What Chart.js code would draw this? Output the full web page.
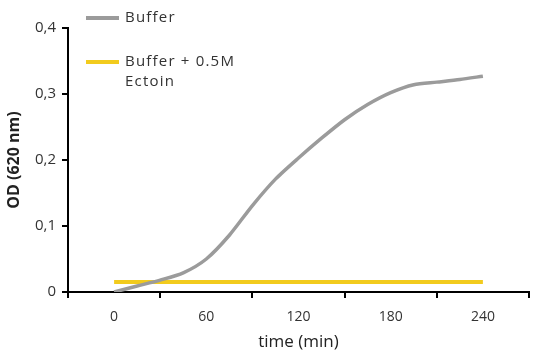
<!DOCTYPE html>
<html>
<head>
<meta charset="utf-8">
<script src="https://cdn.jsdelivr.net/npm/chart.js@4/dist/chart.umd.min.js"></script>
<style>
  html, body { margin: 0; padding: 0; background: #fff; }
  #wrap { width: 542px; height: 357px; }
</style>
</head>
<body>
<div id="wrap"><canvas id="c" width="542" height="357"></canvas></div>
<script>
// ---- data ----
const xCategoryLabels = ['0', '60', '120', '180', '240'];
const timeMin = [0, 15, 30, 45, 60, 75, 90, 105, 120, 135, 150, 165, 180, 195, 210, 225, 240];
const bufferOD = [0, 0.009, 0.018, 0.029, 0.05, 0.086, 0.131, 0.171, 0.203, 0.233, 0.261, 0.284, 0.302, 0.314, 0.318, 0.322, 0.327];
const ectoinOD = [0.015, 0.015, 0.015, 0.015, 0.015, 0.015, 0.015, 0.015, 0.015, 0.015, 0.015, 0.015, 0.015, 0.015, 0.015, 0.015, 0.015];
const yTickLabels = ['0', '0,1', '0,2', '0,3', '0,4'];
const seriesNames = [['Buffer'], ['Buffer + 0.5M', 'Ectoin']];

const toPoints = (xs, ys) => xs.map((x, i) => ({ x: x, y: ys[i] }));

const FONT = "'Open Sans', 'DejaVu Sans', sans-serif";

const insetLegend = {
  id: 'insetLegend',
  afterDraw(chart) {
    const ctx = chart.ctx;
    const a = chart.chartArea;
    const x0 = a.left + 18;
    const rows = [a.top - 10, a.top + 34];
    ctx.save();
    chart.data.datasets.forEach((ds, i) => {
      const y = rows[i];
      ctx.strokeStyle = ds.borderColor;
      ctx.lineWidth = 4;
      ctx.beginPath();
      ctx.moveTo(x0, y);
      ctx.lineTo(x0 + 33, y);
      ctx.stroke();
      ctx.fillStyle = '#333';
      ctx.font = "15px " + FONT;
      if ('letterSpacing' in ctx) ctx.letterSpacing = '1.2px';
      ctx.textBaseline = 'middle';
      ctx.textAlign = 'left';
      const lines = Array.isArray(ds.label) ? ds.label : [ds.label];
      lines.forEach((t, k) => ctx.fillText(t, x0 + 39, y + k * 20));
    });
    ctx.restore();
  }
};

new Chart(document.getElementById('c'), {
  type: 'line',
  data: {
    labels: xCategoryLabels,
    datasets: [
      {
        label: seriesNames[0],
        data: toPoints(timeMin, bufferOD),
        xAxisID: 'xd',
        borderColor: '#9b9b9b',
        borderWidth: 3.5,
        pointRadius: 0,
        tension: 0.25,
        fill: false
      },
      {
        label: seriesNames[1],
        data: toPoints(timeMin, ectoinOD),
        xAxisID: 'xd',
        borderColor: '#f2cb1d',
        borderWidth: 4,
        pointRadius: 0,
        tension: 0,
        fill: false
      }
    ]
  },
  options: {
    responsive: false,
    animation: false,
    layout: { padding: { top: 28, right: 13, left: 0, bottom: 0 } },
    plugins: { legend: { display: false }, tooltip: { enabled: false } },
    scales: {
      x: {
        type: 'category',
        offset: true,
        position: 'bottom',
        grid: { offset: true, drawOnChartArea: false, color: '#000', lineWidth: 2, tickLength: 6 },
        border: { color: '#000', width: 2 },
        ticks: { color: '#333', font: { family: FONT, size: 14 }, padding: 11, maxRotation: 0 },
        title: { display: true, text: 'time (min)', color: '#222', font: { family: FONT, size: 17 }, padding: { top: 2, bottom: 5 } },
        afterFit(scale) { scale.height = 65; }
      },
      xd: {
        type: 'linear',
        display: false,
        min: -30,
        max: 270
      },
      y: {
        type: 'linear',
        min: 0,
        max: 0.4,
        ticks: {
          stepSize: 0.1,
          color: '#333',
          font: { family: FONT, size: 15 },
          padding: 6,
          callback: (v, i) => yTickLabels[i]
        },
        grid: { drawOnChartArea: false, color: '#000', lineWidth: 2, tickLength: 6 },
        border: { color: '#000', width: 2 },
        title: { display: true, text: 'OD (620 nm)', color: '#222', font: { family: FONT, size: 16, weight: 'bold' }, padding: { top: 5, bottom: 4 } },
        afterFit(scale) { scale.width = 68; }
      }
    }
  },
  plugins: [insetLegend]
});
</script>
</body>
</html>
